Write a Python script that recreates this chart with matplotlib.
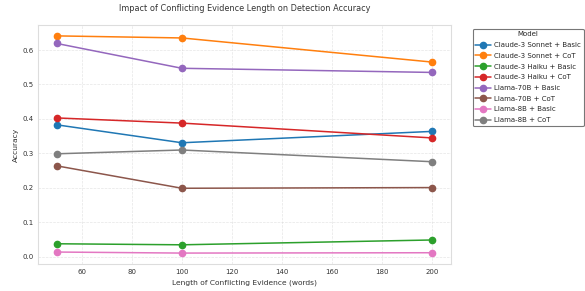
import matplotlib
matplotlib.use("Agg")
import matplotlib.pyplot as plt
import seaborn as sns

sns.set_theme(style="whitegrid")
plt.rcParams['font.family'] = ['DejaVu Sans']

lengths = [50, 100, 200]
series_names = [
    "Claude-3 Sonnet + Basic",
    "Claude-3 Sonnet + CoT",
    "Claude-3 Haiku + Basic",
    "Claude-3 Haiku + CoT",
    "Llama-70B + Basic",
    "Llama-70B + CoT",
    "Llama-8B + Basic",
    "Llama-8B + CoT",
]
sonnet_basic = [0.383, 0.331, 0.364]
sonnet_cot = [0.641, 0.635, 0.565]
haiku_basic = [0.038, 0.035, 0.049]
haiku_cot = [0.403, 0.388, 0.345]
llama70_basic = [0.619, 0.547, 0.535]
llama70_cot = [0.264, 0.199, 0.201]
llama8_basic = [0.014, 0.011, 0.012]
llama8_cot = [0.299, 0.310, 0.276]

values = [sonnet_basic, sonnet_cot, haiku_basic, haiku_cot,
          llama70_basic, llama70_cot, llama8_basic, llama8_cot]
colors = ["#1f77b4", "#ff7f0e", "#2ca02c", "#d62728",
          "#9467bd", "#8c564b", "#e377c2", "#7f7f7f"]

fig = plt.figure(figsize=(5.85, 2.91), dpi=100)
ax = fig.add_axes([0.065, 0.093, 0.706, 0.821])

for name, vals, c in zip(series_names, values, colors):
    ax.plot(lengths, vals, marker='o', color=c, label=name,
            linewidth=1.1, markersize=4.5)

ax.set_title("Impact of Conflicting Evidence Length on Detection Accuracy",
             fontsize=5.9, color="#333333", pad=10)
ax.set_xlabel("Length of Conflicting Evidence (words)", fontsize=5.4, color="#333333", labelpad=3)
ax.set_ylabel("Accuracy", fontsize=5.4, color="#333333", labelpad=3)
ax.tick_params(axis='x', labelsize=5.0, colors="#333333", pad=4, length=0)
ax.tick_params(axis='y', labelsize=5.0, colors="#333333", pad=3, length=0)
ax.grid(True, linestyle='--', alpha=0.5, linewidth=0.5)
for s in ax.spines.values():
    s.set_color("#dddddd")
    s.set_linewidth(0.8)

leg = ax.legend(title="Model", bbox_to_anchor=(1.052, 0.985), loc='upper left',
                fontsize=5.0, title_fontsize=5.0, frameon=True,
                borderpad=0.4, labelspacing=0.68, handlelength=2.2,
                handletextpad=0.5, borderaxespad=0, fancybox=True)
leg.get_frame().set_edgecolor("#555555")
leg.get_frame().set_linewidth(0.8)

fig.savefig("out.png", dpi=100)
